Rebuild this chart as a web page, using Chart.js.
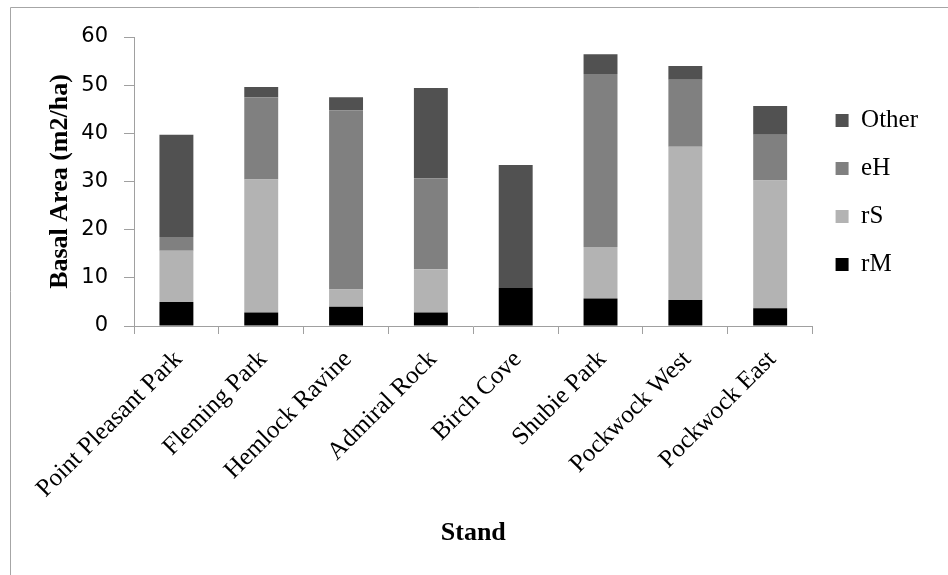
<!DOCTYPE html>
<html>
<head>
<meta charset="utf-8">
<script src="https://cdn.jsdelivr.net/npm/chart.js@4/dist/chart.umd.min.js"></script>
<style>
  html, body { margin: 0; padding: 0; background: #fff; }
  #wrap { width: 948px; height: 575px; }
</style>
</head>
<body>
<div id="wrap"><canvas id="basalChart" width="948" height="575"></canvas></div>
<script>
// stands along the x axis
const stands = ["Point Pleasant Park", "Fleming Park", "Hemlock Ravine", "Admiral Rock",
  "Birch Cove", "Shubie Park", "Pockwock West", "Pockwock East"];

// basal area per group, m2/ha (stacked bottom to top: rM, rS, eH, Other)
const rM = [5.0, 2.8, 4.0, 2.8, 7.9, 5.7, 5.4, 3.7];
const rS = [10.6, 27.6, 3.6, 9.0, 0, 10.7, 31.8, 26.5];
const eH = [2.9, 17.1, 37.2, 18.9, 0, 35.9, 13.9, 9.5];
const other = [21.2, 2.1, 2.7, 18.7, 25.5, 4.1, 2.9, 6.0];

const yTicks = [0, 10, 20, 30, 40, 50, 60];

const axisGray = "#a0a0a0";

// Excel-style chart area border (top and left edges only visible)
const frameBorder = {
  id: "frameBorder",
  beforeDraw(chart) {
    const ctx = chart.ctx;
    ctx.save();
    ctx.strokeStyle = "#a6a6a6";
    ctx.lineWidth = 1;
    ctx.beginPath();
    ctx.moveTo(10.5, 575);
    ctx.lineTo(10.5, 7.5);
    ctx.lineTo(948, 7.5);
    ctx.stroke();
    ctx.restore();
  }
};

const makeSet = (label, values, color) => ({
  label: label,
  data: values,
  backgroundColor: color,
  borderWidth: 0,
  barPercentage: 0.4,
  categoryPercentage: 1.0,
});

const context = document.getElementById("basalChart").getContext("2d");

new Chart(context, {
  type: "bar",
  data: {
    labels: stands,
    datasets: [
      makeSet("rM", rM, "#000000"),
      makeSet("rS", rS, "#b3b3b3"),
      makeSet("eH", eH, "#808080"),
      makeSet("Other", other, "#515151"),
    ],
  },
  options: {
    responsive: false,
    animation: false,
    devicePixelRatio: 1,
    layout: { padding: { top: 37, left: 0, right: 20, bottom: 0 } },
    plugins: {
      tooltip: { enabled: false },
      legend: {
        position: "right",
        align: "start",
        fullSize: false,
        reverse: true,
        title: { display: true, text: "", font: { size: 10 }, padding: { top: 36, bottom: 0 } },
        labels: {
          boxWidth: 13,
          boxHeight: 13,
          padding: 23,
          color: "#000",
          font: { family: "'Liberation Serif', 'Times New Roman', serif", size: 25 },
        },
      },
    },
    scales: {
      x: {
        stacked: true,
        afterFit: (scale) => { scale.height = 249; },
        border: { display: true, color: axisGray, width: 1 },
        grid: { display: true, offset: true, drawOnChartArea: false, drawTicks: true, tickLength: 8, color: axisGray },
        ticks: {
          autoSkip: false,
          minRotation: 45,
          maxRotation: 45,
          padding: 11,
          labelOffset: 2,
          color: "#000",
          font: { family: "'Liberation Serif', 'Times New Roman', serif", size: 25 },
        },
        title: {
          display: true,
          text: "Stand",
          color: "#000",
          font: { family: "'Liberation Serif', 'Times New Roman', serif", size: 26, weight: "bold" },
          padding: { top: 0, bottom: 26 },
        },
      },
      y: {
        stacked: true,
        min: 0,
        max: 60,
        afterFit: (scale) => { scale.width = 134; },
        afterBuildTicks: (scale) => { scale.ticks = yTicks.map((v) => ({ value: v })); },
        border: { display: true, color: axisGray, width: 1 },
        grid: { display: true, drawOnChartArea: false, drawTicks: true, tickLength: 10, color: axisGray },
        ticks: {
          padding: 16,
          color: "#000",
          font: { family: "'DejaVu Sans', sans-serif", size: 21 },
        },
        title: {
          display: true,
          text: "Basal Area (m2/ha)",
          color: "#000",
          font: { family: "'Liberation Serif', 'Times New Roman', serif", size: 26, weight: "bold" },
          padding: { top: 45, bottom: 0 },
        },
      },
    },
  },
  plugins: [frameBorder],
});
</script>
</body>
</html>
